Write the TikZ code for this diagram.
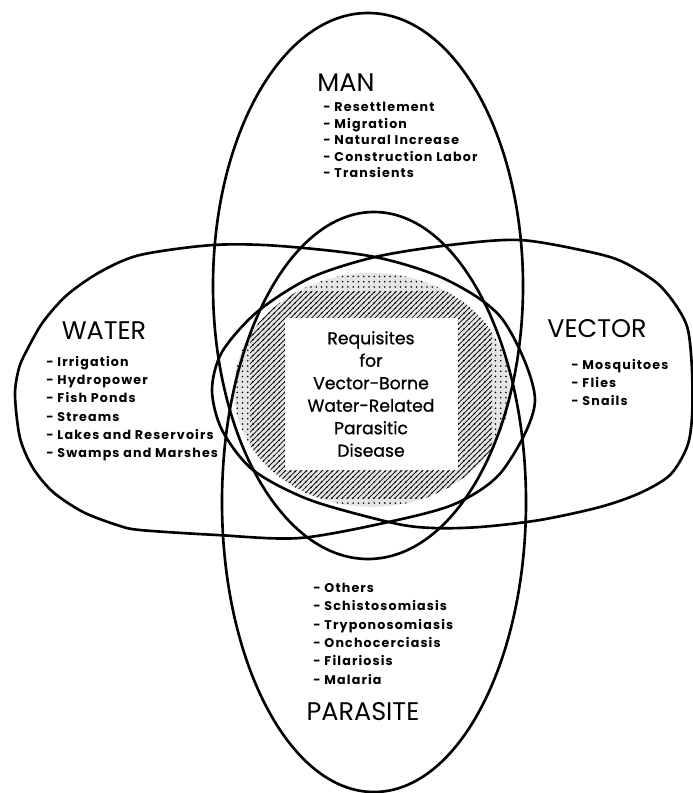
\documentclass[tikz,border=0pt]{standalone}
\usepackage{fontspec}
\setmainfont{Poppins}
\newfontfamily\itemfont[LetterSpace=9]{Poppins}
\newfontfamily\corefont[FakeBold=0.8]{Poppins}
\usetikzlibrary{patterns}

\begin{document}
\begin{tikzpicture}[x=0.02cm,y=-0.02cm,line width=1.5pt,
      title/.style={font=\fontsize{14.5}{16}\selectfont,inner sep=0pt},
      items/.style={font=\itemfont\bfseries\fontsize{7.2}{#1}\selectfont,align=left,anchor=north west,inner sep=0pt},
      items/.default=10.4,
      core/.style={font=\corefont\fontsize{9.8}{12.8}\selectfont,align=center,inner sep=0pt}]
    \useasboundingbox (0,0) rectangle (692,793);

    % shaded middle
    \begin{scope}
      \clip (372,390) ellipse [x radius=138, y radius=117];
      \fill[black!10] (200,250) rectangle (540,540);
      \fill[pattern=dots,pattern color=black] (200,250) rectangle (540,540);
      \fill[pattern=north east lines,pattern color=black] (250,292) rectangle (492,498);
    \end{scope}
    \fill[white] (285,318) rectangle (458,470);

    % water and vector
    \draw plot[smooth cycle] coordinates {(15,395) (19,368) (27,350) (43,322) (67,295) (100,272) (140,255) (213,245)
      (280,246) (375,257) (447,280) (503,320) (535,400) (503,470) (457,503) (393,521) (300,538) (217,535) (140,530)
      (117,525) (83,512) (53,492) (33,468) (20,438)};
    \draw plot[smooth cycle] coordinates {(212,390) (222,352) (257,312) (310,278) (375,257) (450,245) (520,240) (590,252)
      (623,262) (657,283) (677,307) (688,330) (692,370) (692,417) (687,447) (670,475) (640,493) (600,507) (540,520)
      (480,527) (433,528) (393,523) (310,500) (253,470) (222,430)};
    % man and parasite
    \draw (368,286) ellipse [x radius=155, y radius=273];
    \draw (374,502) ellipse [x radius=152, y radius=290];

      \node[title] (man) at (346,83) 		{MAN};
      \node[title] (water) at (104,331) 	{WATER};
      \node[title] (vector) at (597,329) 	{VECTOR};
      \node[title] (parasite) at (363,712) 	{PARASITE};

      \node[items=9.4] (manlist) at (322,101) 	{- Resettlement\\- Migration\\- Natural Increase\\- Construction Labor\\- Transients};
      \node[items] (waterlist) at (45,355) 	{- Irrigation\\- Hydropower\\- Fish Ponds\\- Streams\\- Lakes and Reservoirs\\- Swamps and Marshes};
      \node[items] (vectorlist) at (570,358) 	{- Mosquitoes\\- Flies\\- Snails};
      \node[items] (parasitelist) at (312,582) 	{- Others\\- Schistosomiasis\\- Tryponosomiasis\\- Onchocerciasis\\- Filariosis\\- Malaria};

      \node[core] (requisites) at (371,394) 	{Requisites\\for\\Vector-Borne\\Water-Related\\Parasitic\\Disease};
\end{tikzpicture}
\end{document}
